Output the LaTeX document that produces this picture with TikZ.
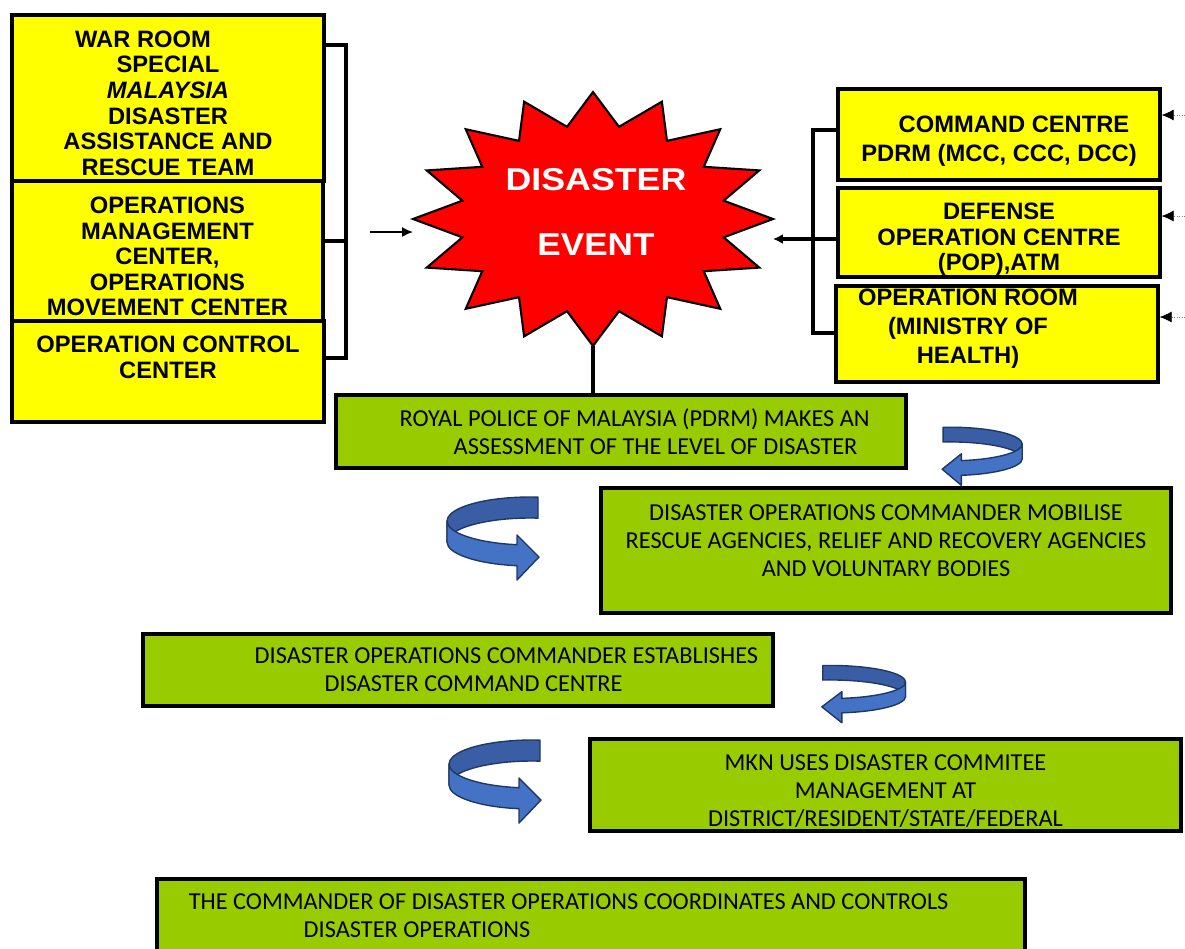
\documentclass[tikz,border=0pt]{standalone}
\usepackage{fontspec}
\usepackage{graphicx}
\setmainfont{Liberation Sans}
\newfontfamily\calibfont{Carlito}
\usetikzlibrary{shapes.geometric,arrows.meta}

\definecolor{boxyellow}{HTML}{FFFF00}
\definecolor{boxgreen}{HTML}{99CC00}
\definecolor{burstred}{HTML}{FF0000}
\definecolor{curlblue}{HTML}{4472C4}
\definecolor{curldark}{HTML}{3A5EA6}
\definecolor{curledge}{HTML}{1F3864}

\tikzset{
  curlinner/.style={fill=curldark, draw=curledge, line width=0.8pt, line join=round},
  curlouter/.style={fill=curlblue, draw=curledge, line width=0.8pt, line join=round},
  % turning arrow, band seen from above
  curl/.pic={
    \draw[curlinner] (0.16cm,0.478cm) arc[start angle=84.5, end angle=180, x radius=1.66cm, y radius=0.48cm]
      -- ++(0,-0.42cm) arc[start angle=180, end angle=84.5, x radius=1.66cm, y radius=0.48cm] -- cycle;
    \draw[curlouter] (-1.66cm,0) arc[start angle=180, end angle=261, x radius=1.66cm, y radius=0.48cm]
      -- (-0.26cm,-0.28cm) -- (0.18cm,-0.72cm) -- (-0.26cm,-1.18cm) -- (-0.26cm,-0.894cm)
      arc[start angle=261, end angle=180, x radius=1.66cm, y radius=0.48cm] -- cycle;
  }
}

\begin{document}
\begin{tikzpicture}[x=0.02cm, y=-0.02cm,
    ybox/.style={draw, line width=1.9pt, fill=boxyellow, inner sep=0pt},
    ytxt/.style={inner sep=0pt, align=center, anchor=center, font=\bfseries\fontsize{13.5}{14.6}\selectfont},
    yloose/.style={font=\bfseries\fontsize{13.5}{16.5}\selectfont},
    gbox/.style={draw, line width=1.9pt, fill=boxgreen, inner sep=0pt},
    gtxt/.style={inner sep=0pt, align=left, font=\calibfont\fontsize{13.85}{15.9}\selectfont},
    brack/.style={line width=2pt},
    feed/.style={line width=0.9pt, -{Latex[length=0.22cm, width=0.2cm]}},
    inflow/.style={densely dotted, gray, thin, -{Latex[length=0.24cm, width=0.22cm, color=black]}},
    burstline/.style={draw=black, line width=1.2pt, fill=burstred},
    bursttxt/.style={text=white, align=center, inner sep=0pt, font=\bfseries\fontsize{18}{37}\selectfont}]
  \useasboundingbox (0,0) rectangle (1185,948);

  % left column
  \node[ybox, minimum width=6.24cm, minimum height=3.32cm,
    label={[ytxt, yshift=-0.1cm]center:WAR ROOM\hspace*{1cm}\\SPECIAL\\\textit{MALAYSIA}\\DISASTER\\ASSISTANCE AND\\RESCUE TEAM}] (war) at (168,98) {};
  \node[ybox, minimum width=6.22cm, minimum height=2.8cm,
    label={[ytxt, yshift=-0.11cm]center:{OPERATIONS\\MANAGEMENT\\CENTER,\\OPERATIONS\\MOVEMENT CENTER}}] (omc) at (167.5,251) {};
  \node[ybox, minimum width=6.24cm, minimum height=2.02cm,
    label={[ytxt, yshift=0.28cm]center:OPERATION CONTROL\\CENTER}] (occ) at (168,371.5) {};

  \coordinate (lspine) at (346,0);
  \draw[brack] (war.east |- 0,45) -- (lspine |- 0,45) -- (lspine |- 0,358) -- (occ.east |- 0,358);
  \draw[brack] (omc.east |- 0,241) -- (lspine |- 0,241);

  % disaster event
  \node[ellipse, minimum width=7.2cm, minimum height=5.08cm, inner sep=0pt, outer sep=0pt] (burst) at (593,219) {};
  \begin{scope}[shift={(burst.center)}]
    \draw[burstline] (90:3.6cm and 2.54cm)
      \foreach \k in {0,...,15} {
        -- ({101.25+22.5*\k}:2.664cm and 1.88cm) -- ({112.5+22.5*\k}:3.6cm and 2.54cm)
      } -- cycle;
  \end{scope}
  \node[bursttxt] (evtxt) at (596,212) {\scalebox{1.13}[1]{DISASTER}\\\scalebox{1.11}[1]{EVENT}};

  \coordinate (lfeed) at (370,232);
  \draw[feed] (lfeed) -- (burst.west |- lfeed);

  % right column
  \node[ybox, minimum width=6.44cm, minimum height=1.82cm,
    label={[ytxt, yloose, yshift=-0.14cm]center:{\hspace*{0.6cm}COMMAND CENTRE\\PDRM (MCC, CCC, DCC)}}] (cmd) at (999,134.5) {};
  \node[ybox, minimum width=6.44cm, minimum height=1.78cm,
    label={[ytxt, yshift=-0.14cm]center:{DEFENSE\\OPERATION CENTRE\\(POP),ATM}}] (dop) at (999,232.5) {};
  \node[ybox, minimum width=6.44cm, minimum height=1.92cm,
    label={[ytxt, yloose, xshift=-0.58cm, yshift=0.1cm]center:OPERATION ROOM\\(MINISTRY OF\\HEALTH)}] (moh) at (997,334) {};

  \coordinate (rspine) at (813,0);
  \draw[brack] (cmd.west |- 0,130) -- (rspine |- 0,130) -- (rspine |- 0,333) -- (moh.west |- 0,333);
  \draw[brack, -{Latex[length=0.2cm, width=0.2cm]}] (dop.west |- 0,239) -- (burst.east |- 0,239);

  \foreach \n/\y in {cmd/115, dop/216, moh/317} {
    \coordinate (in-\n) at (1185,\y);
    \draw[inflow] (in-\n) -- (\n.east |- in-\n);
  }

  % steps
  \node[gbox, minimum width=11.4cm, minimum height=1.46cm,
    label={[gtxt, anchor=west, xshift=1.3cm]west:ROYAL POLICE OF MALAYSIA (PDRM) MAKES AN\\\hspace*{1.08cm}ASSESSMENT OF THE LEVEL OF DISASTER}] (pdrm) at (621,431.5) {};
  \node[gbox, minimum width=11.4cm, minimum height=2.5cm,
    label={[gtxt, align=center, anchor=center, yshift=0.2cm]center:{DISASTER OPERATIONS COMMANDER MOBILISE\\RESCUE AGENCIES, RELIEF AND RECOVERY AGENCIES\\AND VOLUNTARY BODIES}}] (mob) at (886,550.5) {};
  \node[gbox, minimum width=12.6cm, minimum height=1.44cm,
    label={[gtxt, anchor=west, xshift=2.26cm]west:DISASTER OPERATIONS COMMANDER ESTABLISHES\\\hspace*{1.4cm}DISASTER COMMAND CENTRE}] (dcc) at (458,670) {};
  \node[gbox, minimum width=11.82cm, minimum height=1.84cm,
    label={[gtxt, align=center, anchor=center, yshift=-0.12cm]center:MKN USES DISASTER COMMITEE\\MANAGEMENT AT\\DISTRICT/RESIDENT/STATE/FEDERAL}] (mkn) at (885.5,785) {};
  \node[gbox, minimum width=17.36cm, minimum height=1.62cm,
    label={[gtxt, anchor=west, xshift=0.66cm, yshift=0.07cm]west:THE COMMANDER OF DISASTER OPERATIONS COORDINATES AND CONTROLS\\\hspace*{2.3cm}DISASTER OPERATIONS}] (ctrl) at (591,919.5) {};

  \draw[brack] (burst.south) -- (burst.south |- pdrm.north);

  \pic[xscale=-0.87, yscale=0.7] at (950,444) {curl};
  \pic at (530,521) {curl};
  \pic[xscale=-0.91, yscale=0.69] at (830,682) {curl};
  \pic at (532,764) {curl};
\end{tikzpicture}
\end{document}
